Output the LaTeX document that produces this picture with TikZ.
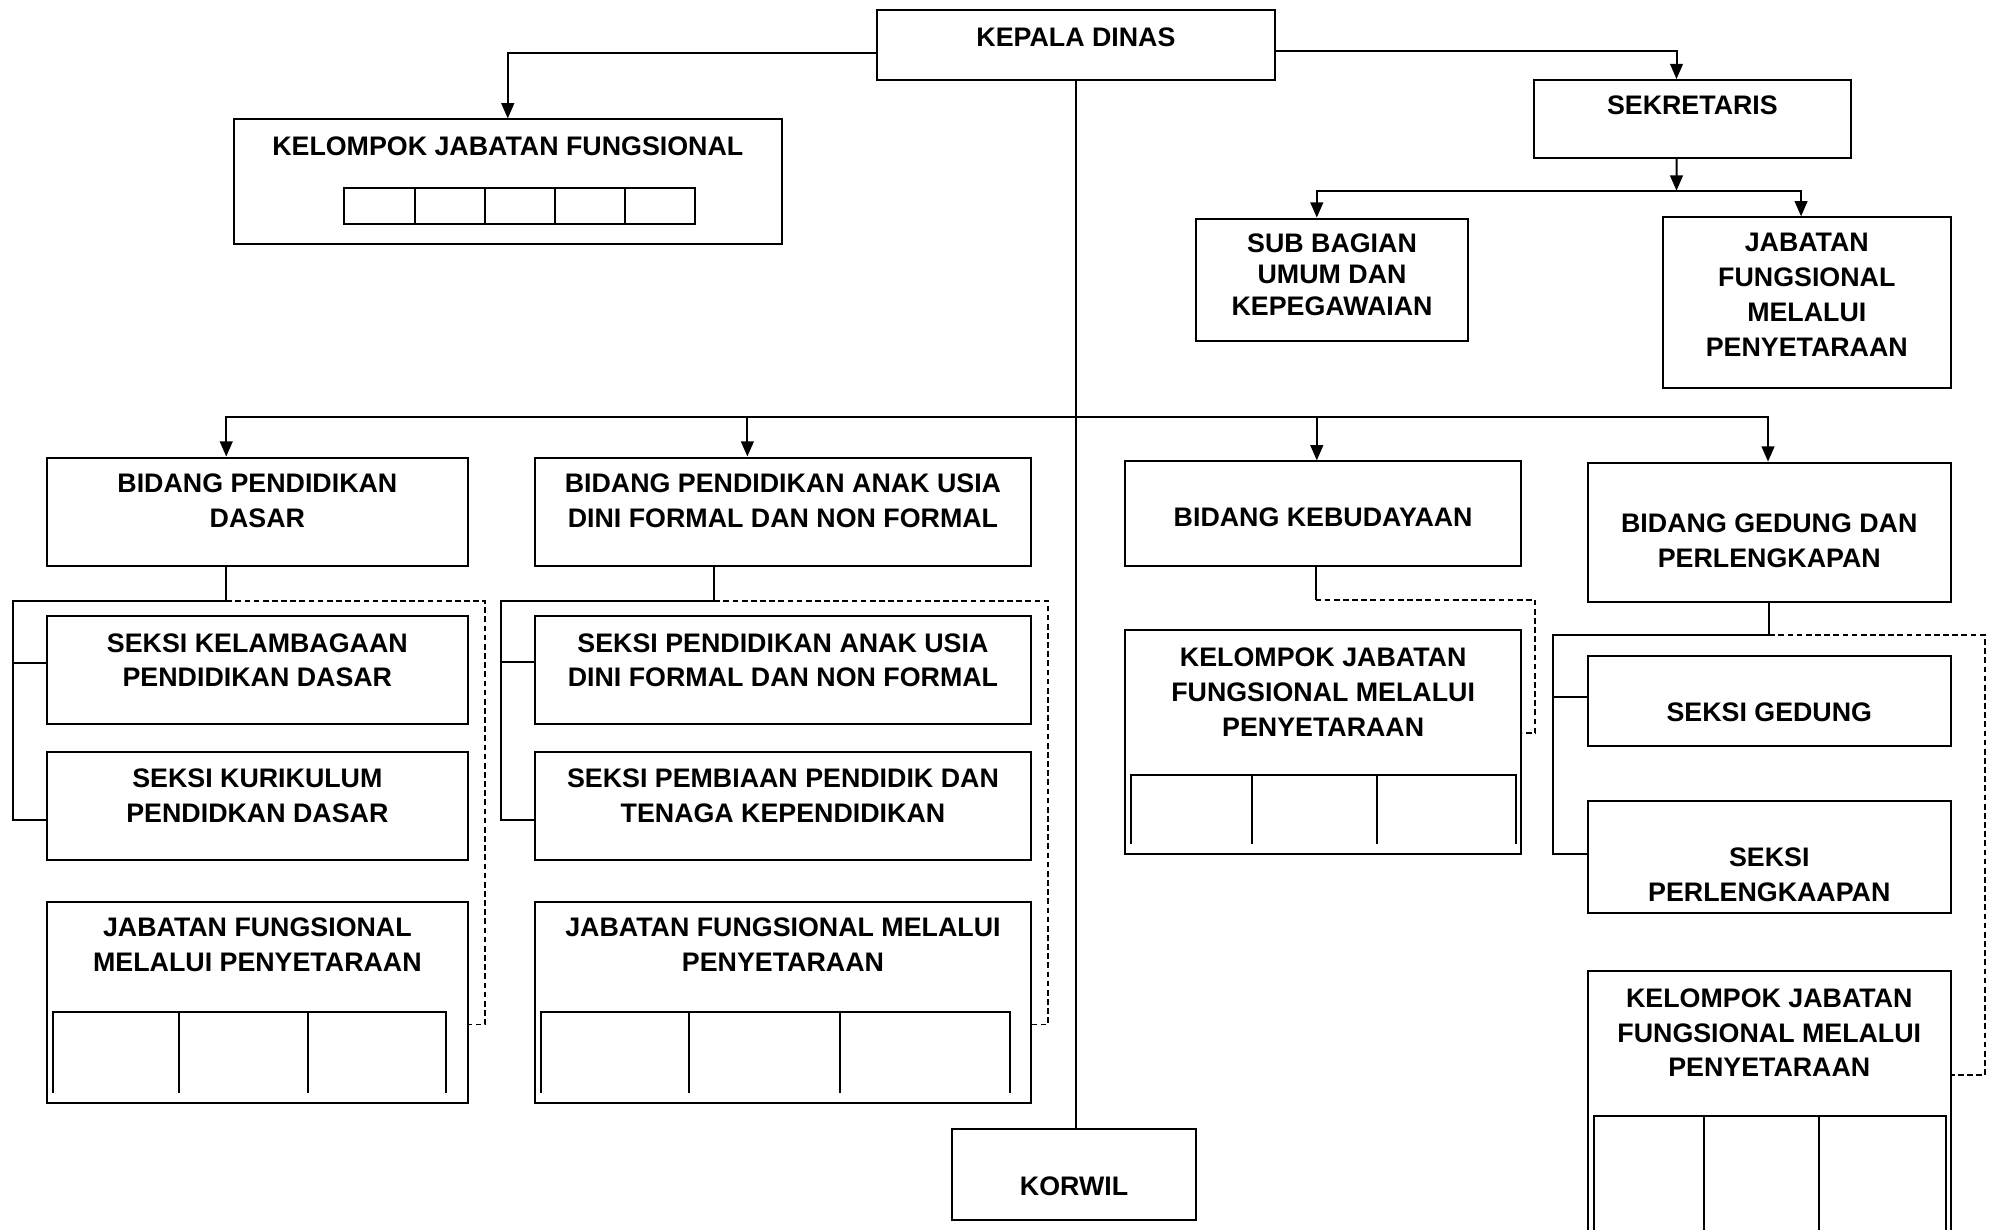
\documentclass[tikz,border=0pt]{standalone}
\usepackage{fontspec}
\setmainfont{Liberation Sans}
\usetikzlibrary{arrows.meta}
\tikzset{
  kotak/.style={draw, rectangle, line width=0.45pt, inner sep=0pt},
  teks/.style={font=\bfseries\fontsize{6}{7.8}\selectfont, align=center, inner sep=0pt},
  garis/.style={line width=0.45pt},
  tipis/.style={line width=0.35pt},
  panah/.style={garis, -{Triangle[length=1.2mm, width=1mm]}},
  putus/.style={line width=0.4pt, dash pattern=on 0.45mm off 0.27mm},
}
\begin{document}
\begin{tikzpicture}[x=0.1mm, y=-0.1mm]
        \useasboundingbox (0,0) rectangle (1568,967);
        \clip (0,0) rectangle (1568,967);

        % Pimpinan dan sekretariat
        \node[kotak, minimum width=31.3mm, minimum height=5.5mm] (kadis) at (846.5,35.5) {};
        \node[teks] (t-kadis) at (846.5,29) {KEPALA DINAS};
        \node[kotak, minimum width=43.1mm, minimum height=9.8mm] (kjf) at (399.5,143) {};
        \node[teks] (t-kjf) at (399.5,115) {KELOMPOK JABATAN FUNGSIONAL};
        \node[kotak, minimum width=24.9mm, minimum height=6.1mm] (sekre) at (1331.5,93.5) {};
        \node[teks] (t-sekre) at (1331.5,83) {SEKRETARIS};
        \node[kotak, minimum width=21.4mm, minimum height=9.6mm] (subbag) at (1048,220) {};
        \node[teks, font=\bfseries\fontsize{6}{7.1}\selectfont] (t-subbag) at (1048,216) {SUB BAGIAN\\UMUM DAN\\KEPEGAWAIAN};
        \node[kotak, minimum width=22.7mm, minimum height=13.4mm] (jfsek) at (1421.5,238) {};
        \node[teks] (t-jfsek) at (1421.5,232) {JABATAN\\FUNGSIONAL\\MELALUI\\PENYETARAAN};
        \node[kotak, minimum width=19.2mm, minimum height=7.2mm] (korwil) at (845,924) {};
        \node[teks] (t-korwil) at (845,933) {KORWIL};

        % Bidang
        \node[kotak, minimum width=33.1mm, minimum height=8.5mm] (bpd) at (202.5,402.5) {};
        \node[teks] (t-bpd) at (202.5,394) {BIDANG PENDIDIKAN\\DASAR};
        \node[kotak, minimum width=39mm, minimum height=8.5mm] (bpaud) at (616,402.5) {};
        \node[teks] (t-bpaud) at (616,394) {BIDANG PENDIDIKAN ANAK USIA\\DINI FORMAL DAN NON FORMAL};
        \node[kotak, minimum width=31.2mm, minimum height=8.2mm] (bbud) at (1041,404) {};
        \node[teks] (t-bbud) at (1041,407) {BIDANG KEBUDAYAAN};
        \node[kotak, minimum width=28.6mm, minimum height=11mm] (bged) at (1392,419) {};
        \node[teks] (t-bged) at (1392,425.5) {BIDANG GEDUNG DAN\\PERLENGKAPAN};

        % Seksi bidang pendidikan dasar
        \node[kotak, minimum width=33.1mm, minimum height=8.5mm] (skel) at (202.5,527.5) {};
        \node[teks] (t-skel) at (202.5,519.5) {SEKSI KELAMBAGAAN\\PENDIDIKAN DASAR};
        \node[kotak, minimum width=33.1mm, minimum height=8.5mm] (skur) at (202.5,634.5) {};
        \node[teks] (t-skur) at (202.5,626) {SEKSI KURIKULUM\\PENDIDKAN DASAR};
        \node[kotak, minimum width=33.1mm, minimum height=15.8mm] (jfpd) at (202.5,789) {};
        \node[teks] (t-jfpd) at (202.5,743.5) {JABATAN FUNGSIONAL\\MELALUI PENYETARAAN};

        % Seksi bidang PAUD
        \node[kotak, minimum width=39mm, minimum height=8.5mm] (spaud) at (616,527.5) {};
        \node[teks] (t-spaud) at (616,519.5) {SEKSI PENDIDIKAN ANAK USIA\\DINI FORMAL DAN NON FORMAL};
        \node[kotak, minimum width=39mm, minimum height=8.5mm] (spemb) at (616,634.5) {};
        \node[teks] (t-spemb) at (616,626) {SEKSI PEMBIAAN PENDIDIK DAN\\TENAGA KEPENDIDIKAN};
        \node[kotak, minimum width=39mm, minimum height=15.8mm] (jfpaud) at (616,789) {};
        \node[teks] (t-jfpaud) at (616,743.5) {JABATAN FUNGSIONAL MELALUI\\PENYETARAAN};

        % Kebudayaan, gedung
        \node[kotak, minimum width=31.2mm, minimum height=17.6mm] (kjfbud) at (1041,584) {};
        \node[teks] (t-kjfbud) at (1041,544.5) {KELOMPOK JABATAN\\FUNGSIONAL MELALUI\\PENYETARAAN};
        \node[kotak, minimum width=28.6mm, minimum height=7.1mm] (sged) at (1392,551.5) {};
        \node[teks] (t-sged) at (1392,560) {SEKSI GEDUNG};
        \node[kotak, minimum width=28.6mm, minimum height=8.8mm] (sperl) at (1392,674) {};
        \node[teks] (t-sperl) at (1392,688) {SEKSI\\PERLENGKAAPAN};
        \node[kotak, minimum width=28.6mm, minimum height=22.6mm] (kjfged) at (1392,877) {};
        \node[teks] (t-kjfged) at (1392,812.5) {KELOMPOK JABATAN\\FUNGSIONAL MELALUI\\PENYETARAAN};

        % Kotak-kotak jabatan
        \foreach \i in {0,...,4}
            \draw[garis] (271+55.2*\i,148) rectangle ++(55.2,28.5);
        \draw[garis] (42,860) -- (42,796) -- (351,796) -- (351,860);
        \foreach \x in {141,242} \draw[garis] (\x,796) -- (\x,860);
        \draw[garis] (426,860) -- (426,796) -- (795,796) -- (795,860);
        \foreach \x in {542,661} \draw[garis] (\x,796) -- (\x,860);
        \draw[garis] (890,664) -- (890,610) -- (1193,610) -- (1193,664);
        \foreach \x in {985,1083} \draw[garis] (\x,610) -- (\x,664);
        \draw[garis] (1254,990) -- (1254,878) -- (1531,878) -- (1531,990);
        \foreach \x in {1341,1431} \draw[garis] (\x,878) -- (\x,990);

        % Garis komando atas
        \draw[panah] ([yshift=-0.65mm]kadis.west) -| (kjf.north);
        \draw[panah] ([yshift=-0.45mm]kadis.east) -| ([xshift=-1.25mm]sekre.north);
        \coordinate (barsek) at (1319,150);
        \draw[panah] ([xshift=-1.25mm]sekre.south) -- (barsek);
        \draw[panah] (barsek) -| ([xshift=-1.2mm]subbag.north);
        \draw[panah] (barsek) -| ([xshift=-0.45mm]jfsek.north);
        \draw[tipis] (kadis.south) -- (kadis.south |- korwil.north);

        % Garis ke bidang
        \coordinate (bus) at (846.5,328);
        \draw[panah] (bus) -| ([xshift=-2.45mm]bpd.north);
        \draw[panah] (bus) -| ([xshift=-2.8mm]bpaud.north);
        \draw[panah] (bus) -| ([xshift=-0.5mm]bbud.north);
        \draw[panah] (bus) -| ([xshift=-0.1mm]bged.north);

        % Bidang pendidikan dasar ke seksi
        \draw[garis] ([xshift=-2.45mm]bpd.south) -- ++(0,27) -- ++(-168,0) |- ([yshift=-1.05mm]skur.west);
        \draw[garis] ([xshift=-2.7mm,yshift=0.55mm]skel.west) -- ([yshift=0.55mm]skel.west);
        \draw[putus] ([xshift=-2.45mm]bpd.south) ++(0,27) -| ([xshift=1.3mm,yshift=-1.7mm]jfpd.east) -- ([yshift=-1.7mm]jfpd.east);

        % Bidang PAUD ke seksi
        \draw[garis] ([xshift=-5.4mm]bpaud.south) -- ++(0,27) -- ++(-168,0) |- ([yshift=-1.05mm]spemb.west);
        \draw[garis] ([xshift=-2.7mm,yshift=0.65mm]spaud.west) -- ([yshift=0.65mm]spaud.west);
        \draw[putus] ([xshift=-5.4mm]bpaud.south) ++(0,27) -| ([xshift=1.3mm,yshift=-1.7mm]jfpaud.east) -- ([yshift=-1.7mm]jfpaud.east);

        % Bidang kebudayaan
        \draw[garis] ([xshift=-0.6mm]bbud.south) -- ++(0,26) coordinate (c3);
        \draw[putus] (c3) -| ([xshift=1mm,yshift=0.7mm]kjfbud.east) -- ([yshift=0.7mm]kjfbud.east);

        % Bidang gedung ke seksi
        \draw[garis] (bged.south) -- ++(0,25) -- ++(-170,0) |- ([yshift=0.2mm]sperl.west);
        \draw[garis] ([xshift=-2.7mm,yshift=0.35mm]sged.west) -- ([yshift=0.35mm]sged.west);
        \draw[putus] (bged.south) ++(0,25) -| ([xshift=2.6mm,yshift=3.1mm]kjfged.east) -- ([yshift=3.1mm]kjfged.east);

    \end{tikzpicture}
\end{document}
